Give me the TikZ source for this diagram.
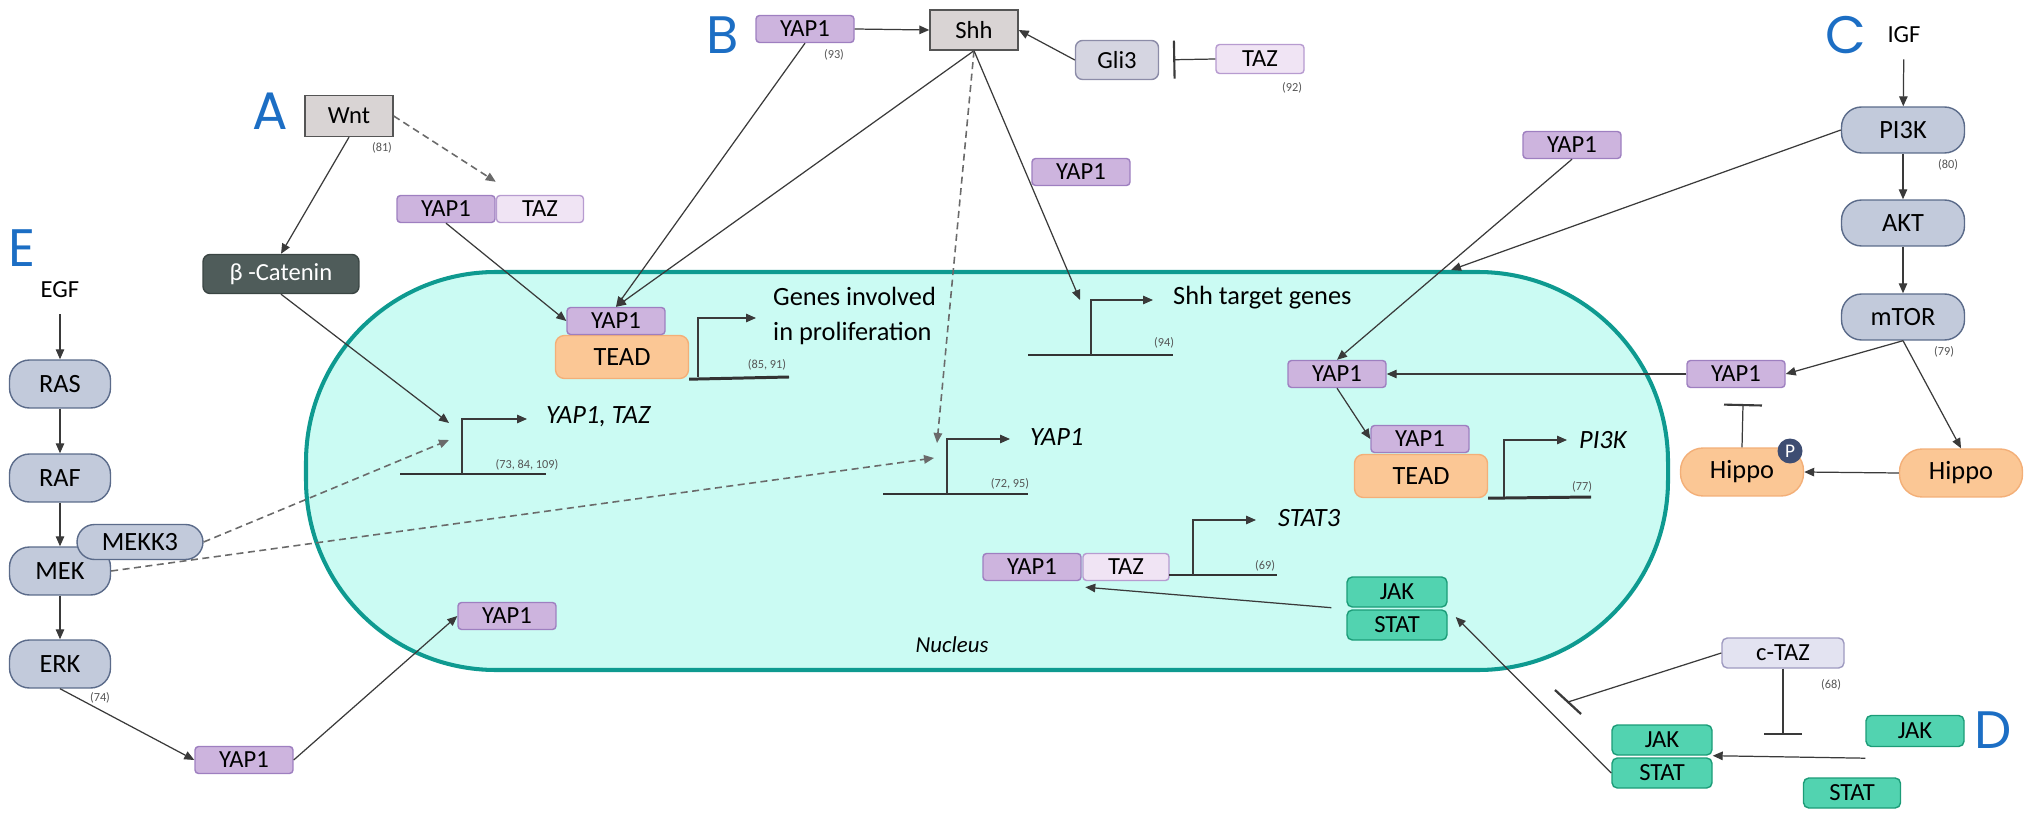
\documentclass[tikz,border=0pt]{standalone}
\usepackage{fontspec}
\setmainfont{Carlito}
\newfontfamily\letterfont{Poppins}
\usetikzlibrary{arrows.meta}

\definecolor{linecol}{HTML}{3A3A3A}
\definecolor{dashcol}{HTML}{6A6A6A}
\definecolor{dnacol}{HTML}{333333}
\definecolor{refcol}{HTML}{555555}
\definecolor{yapfill}{HTML}{CDB4DE}
\definecolor{yapline}{HTML}{9E7FC0}
\definecolor{tazfill}{HTML}{F0E4F4}
\definecolor{tazline}{HTML}{B79BD0}
\definecolor{sigfill}{HTML}{D9D4D4}
\definecolor{sigline}{HTML}{555555}
\definecolor{glifill}{HTML}{D5D5E1}
\definecolor{gliline}{HTML}{8C8CA8}
\definecolor{ctazfill}{HTML}{E3E3F1}
\definecolor{ctazline}{HTML}{9E9AC0}
\definecolor{kinfill}{HTML}{C2CADB}
\definecolor{kinline}{HTML}{5B6B8A}
\definecolor{bcatfill}{HTML}{4F5C5A}
\definecolor{bcatline}{HTML}{3A4543}
\definecolor{teadfill}{HTML}{FBC795}
\definecolor{teadline}{HTML}{F3AF78}
\definecolor{jakfill}{HTML}{52D3B0}
\definecolor{jakline}{HTML}{1C9C78}
\definecolor{pcol}{HTML}{3E4D72}
\definecolor{nucfill}{HTML}{CBFBF3}
\definecolor{nucline}{HTML}{0E9A90}
\definecolor{letterblue}{HTML}{1C6EC4}

\tikzset{
  box/.style={draw, line width=0.8pt, inner sep=0pt, font=\fontsize{14}{16}\selectfont},
  yap/.style={box, draw=yapline, fill=yapfill, rounded corners=2pt, minimum width=1.96cm, minimum height=0.54cm},
  taz/.style={box, draw=tazline, fill=tazfill, rounded corners=2pt, minimum width=1.74cm, minimum height=0.54cm},
  sig/.style={box, draw=sigline, fill=sigfill, minimum width=1.76cm, minimum height=0.82cm},
  gli/.style={box, draw=gliline, fill=glifill, rounded corners=4pt, minimum width=1.66cm, minimum height=0.78cm},
  ctaz/.style={box, draw=ctazline, fill=ctazfill, rounded corners=3pt, minimum width=2.44cm, minimum height=0.6cm},
  kin/.style={box, draw=kinline, fill=kinfill, rounded corners=0.4cm, minimum width=2.02cm, minimum height=0.96cm, font=\fontsize{15}{17}\selectfont},
  bcat/.style={box, draw=bcatline, fill=bcatfill, text=white, rounded corners=4pt, minimum width=3.12cm, minimum height=0.78cm},
  tead/.style={box, draw=teadline, fill=teadfill, rounded corners=5pt, minimum width=2.66cm, minimum height=0.86cm, font=\fontsize{15}{17}\selectfont},
  hip/.style={box, draw=teadline, fill=teadfill, rounded corners=0.45cm, minimum width=2.46cm, minimum height=0.96cm, font=\fontsize{15}{17}\selectfont},
  jak/.style={box, draw=jakline, fill=jakfill, rounded corners=3pt, minimum width=2cm, minimum height=0.6cm},
  letter/.style={text=letterblue, font=\letterfont\fontsize{30}{30}\selectfont},
  ref/.style={text=refcol, font=\fontsize{7}{8}\selectfont},
  gene/.style={anchor=west, align=left, font=\fontsize{15}{20}\selectfont},
  igene/.style={anchor=west, font=\itshape\fontsize{15}{17}\selectfont},
  lbl/.style={inner sep=0.32cm, font=\fontsize{14}{16}\selectfont},
  con/.style={draw=linecol, line width=0.7pt, -{Triangle[length=0.2cm,width=0.17cm]}},
  dsh/.style={con, draw=dashcol, dash pattern=on 0.14cm off 0.09cm, line width=0.9pt},
  inh/.style={draw=linecol, line width=0.7pt, -{Bar[width=0.76cm,line width=1.2pt]}},
  dna/.style={draw=dnacol, line width=1.7pt},
  nuc/.style={draw=nucline, fill=nucfill, line width=2.3pt, rounded corners=3.8cm},
}

\begin{document}
\begin{tikzpicture}[x=0.02cm, y=-0.02cm]
\useasboundingbox (0,0) rectangle (2031,817);

% nucleus
\draw[nuc] (306,272) rectangle (1668,670);
\node[font=\itshape\fontsize{13}{15}\selectfont] (nucl) at (952,645) {Nucleus};

% letters
\node[letter] (lA) at (270,111) {A};
\node[letter] (lB) at (723,35) {B};
\node[letter] (lC) at (1846,35) {C};
\node[letter] (lD) at (1993,730) {D};
\node[letter] (lE) at (22,248) {E};

% A: Wnt
\node[sig] (wnt) at (349,116) {Wnt};
\node[ref] (r81) at (382,148) {(81)};
\node[yap] (yA) at (446,209) {YAP1};
\node[taz] (tA) at (540,209) {TAZ};
\node[bcat] (bcat) at (281,274) {β -Catenin};

% B: Shh
\node[yap] (yB) at (805,29) {YAP1};
\node[ref] (r93) at (834,55) {(93)};
\node[sig, minimum height=0.8cm] (shh) at (974,30) {Shh};
\node[gli] (gli) at (1117,60) {Gli3};
\node[taz, minimum width=1.76cm, minimum height=0.58cm] (tB) at (1260,59) {TAZ};
\node[ref] (r92) at (1292,88) {(92)};
\node[yap] (yS) at (1081,172) {YAP1};

% nucleus: YAP1/TEAD, proliferation genes
\node[tead] (teadA) at (622,357) {TEAD};
\node[yap] (yN) at (616,321) {YAP1};
\draw[dna] (teadA.south east) -- (789,377);
\draw[con] (698,377) |- (756,318);
\node[gene] (genA) at (767,316) {Genes involved\\in proliferation};
\node[ref] (r85) at (767,365) {(85, 91)};

% Shh target genes
\draw[dna] (1028,355) -- (1173,355);
\draw[con] (1091,355) |- (1153,300);
\node[gene] (genS) at (1167,298) {Shh target genes};
\node[ref] (r94) at (1164,343) {(94)};
\coordinate (pShh) at (1080,300);

% YAP1 gene
\draw[dna] (883,494) -- (1028,494);
\draw[con] (947,494) |- (1010,439);
\node[igene] (genY) at (1024,437) {YAP1};
\node[ref] (r72) at (1010,484) {(72, 95)};
\coordinate (pY1) at (937,443);
\coordinate (pY2) at (934,458);

% YAP1, TAZ genes
\draw[dna] (400,474) -- (546,474);
\draw[con] (462,474) |- (527,419);
\node[igene] (genT) at (540,417) {YAP1, TAZ};
\node[ref] (r73) at (527,465) {(73, 84, 109)};
\coordinate (pT1) at (449,423);
\coordinate (pT2) at (449,440);

% STAT3
\node[yap] (yST) at (1032,567) {YAP1};
\node[taz, minimum width=1.72cm] (tST) at (1126,567) {TAZ};
\draw[dna] (1169,575) -- (1277,575);
\draw[con] (1193,575) |- (1256,520);
\node[igene] (genST) at (1272,518) {STAT3};
\node[ref] (r69) at (1265,566) {(69)};

% E: EGF
\node[lbl] (egf) at (60,290) {EGF};
\node[kin] (ras) at (60,384) {RAS};
\node[kin] (raf) at (60,478) {RAF};
\node[kin] (mek) at (60,571) {MEK};
\node[kin, minimum width=2.52cm, minimum height=0.7cm, rounded corners=0.35cm] (mekk3) at (140,542) {MEKK3};
\node[kin] (erk) at (60,664) {ERK};
\node[ref] (r74) at (100,698) {(74)};
\node[yap] (yE1) at (244,760) {YAP1};
\node[yap] (yE2) at (507,616) {YAP1};

% C: IGF
\node[lbl] (igf) at (1904,35) {IGF};
\node[kin, minimum width=2.46cm, minimum height=0.92cm] (pi3k) at (1903,130) {PI3K};
\node[ref] (r80) at (1948,165) {(80)};
\node[kin, minimum width=2.46cm, minimum height=0.92cm] (akt) at (1903,223) {AKT};
\node[kin, minimum width=2.46cm, minimum height=0.92cm] (mtor) at (1903,317) {mTOR};
\node[ref] (r79) at (1944,352) {(79)};
\node[yap] (yC1) at (1572,145) {YAP1};
\node[yap] (yC2) at (1337,374) {YAP1};
\node[yap] (yC3) at (1736,374) {YAP1};
\node[tead] (teadC) at (1421,476) {TEAD};
\node[yap] (yC4) at (1420,439) {YAP1};
\draw[dna] (teadC.south east) -- (1591,497);
\draw[con] (1504,497) |- (1567,440);
\node[igene] (genP) at (1573,440) {PI3K};
\node[ref] (r77) at (1582,487) {(77)};
\node[hip] (hipP) at (1742,472) {Hippo};
\node[circle, fill=pcol, text=white, minimum size=0.5cm, inner sep=0pt, font=\fontsize{11}{11}\selectfont] (phos) at (1790,451) {P};
\node[hip] (hip) at (1961,473) {Hippo};
\coordinate (pC) at (1451,270);
\coordinate (barC) at (1743,404);

% D: JAK/STAT
\node[jak] (jakN) at (1397,592) {JAK};
\node[jak] (statN) at (1397,625) {STAT};
\node[ctaz] (ctaz) at (1783,653) {c-TAZ};
\node[ref] (r68) at (1831,685) {(68)};
\node[jak] (jakL) at (1662,740) {JAK};
\node[jak] (statL) at (1662,773) {STAT};
\node[jak, minimum width=1.96cm, minimum height=0.62cm] (jakR) at (1915,731) {JAK};
\node[jak, minimum width=1.94cm] (statR) at (1852,793) {STAT};
\coordinate (ctbm) at (1568,702);
\coordinate (ctb1) at (1555,690);
\coordinate (ctb2) at (1581,714);
\coordinate (ctbD) at (1783,735);

% connectors A
\draw[dsh] (wnt.east) -- ([yshift=0.26cm]tA.north west);
\draw[con] (wnt.south) -- (bcat.north);
\draw[con] (yA.south) -- (yN.west);
\draw[con] (bcat.south) -- (pT1);

% connectors B
\draw[con] (yB.east) -- (shh.west);
\draw[con] (gli.west) -- (shh.east);
\draw[inh, shorten >=0.28cm] (tB.west) -- (gli.east);
\draw[con] (yB.south) -- (yN.north);
\draw[con] (shh.south) -- (yN.north);
\draw[dsh] (shh.south) -- (pY1);
\draw[con] (shh.south) -- (pShh);

% connectors E
\draw[con] (egf) -- (ras);
\draw[con] (ras) -- (raf);
\draw[con] (raf) -- (mek);
\draw[con] (mek) -- (erk);
\draw[dsh] (mekk3.east) -- (pT2);
\draw[dsh] (mek.east) -- (pY2);
\draw[con] (erk.south) -- (yE1.west);
\draw[con] (yE1.east) -- (yE2.west);

% connectors C
\draw[con] (igf) -- (pi3k);
\draw[con] (pi3k) -- (akt);
\draw[con] (akt) -- (mtor);
\draw[con] (pi3k.west) -- (pC);
\draw[con] (yC1.south) -- (yC2.north);
\draw[con] (mtor.south) -- (yC3.east);
\draw[con] (yC3.west) -- (yC2.east);
\draw[con] (yC2.south) -- (yC4.west);
\draw[con] (mtor.south) -- (hip.north);
\draw[con] (hip.west) -- (hipP.east);
\draw[inh] (hipP.north) -- (barC);

% connectors D
\draw[con] ([yshift=-0.22cm]jakR.south west) -- (jakL.south east);
\draw[con] (statL.west) -- ([xshift=0.16cm,yshift=0.16cm]statN.east);
\draw[draw=linecol, line width=0.7pt] (ctaz.west) -- (ctbm);
\draw[draw=linecol, line width=1.3pt] (ctb1) -- (ctb2);
\draw[inh] (ctaz.south) -- (ctbD);
\draw[con] ([xshift=-0.3cm]jakN.south west) -- ([xshift=0.06cm,yshift=-0.12cm]tST.south west);
\end{tikzpicture}
\end{document}
